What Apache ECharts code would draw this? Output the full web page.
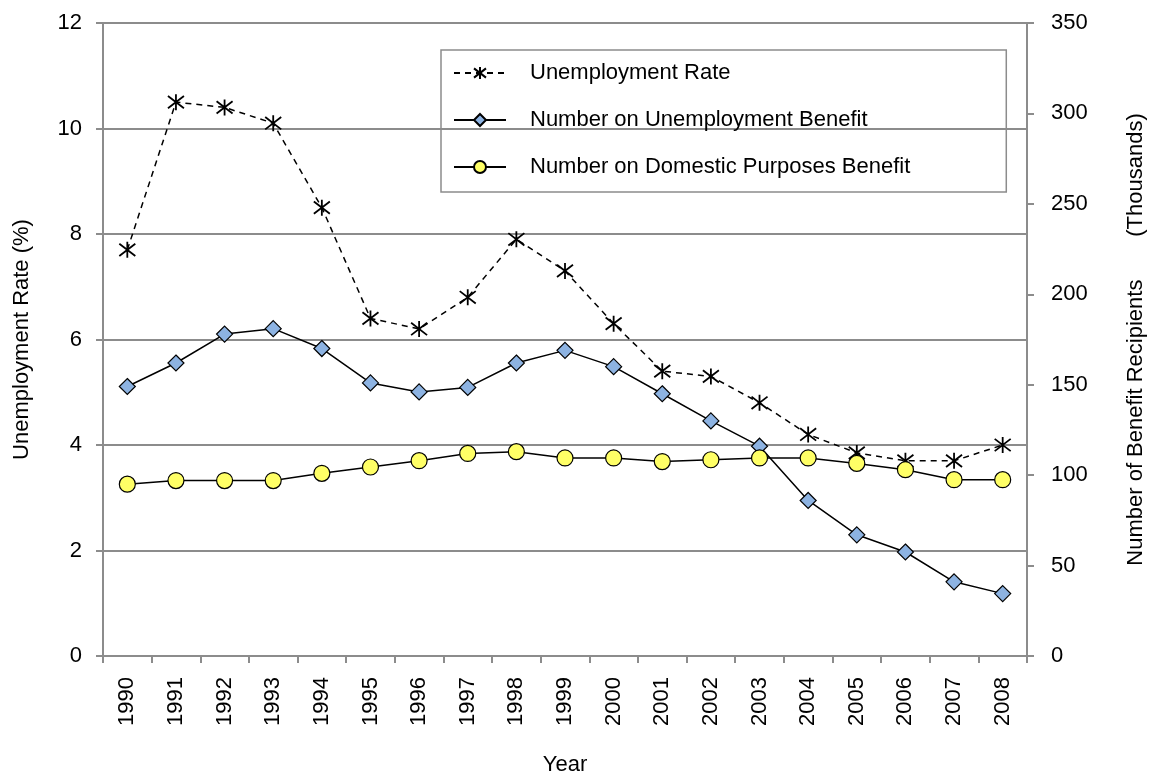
<!DOCTYPE html>
<html>
<head>
<meta charset="utf-8">
<script src="https://cdn.jsdelivr.net/npm/echarts@6/dist/echarts.min.js"></script>
<style>
  html, body { margin: 0; padding: 0; background: #fff; }
  #chart { width: 1150px; height: 778px; }
</style>
</head>
<body>
<div id="chart"></div>
<script>
const years = ['1990', '1991', '1992', '1993', '1994', '1995', '1996', '1997', '1998', '1999',
  '2000', '2001', '2002', '2003', '2004', '2005', '2006', '2007', '2008']
// percent
const unemploymentRate = [7.7, 10.5, 10.4, 10.1, 8.5, 6.4, 6.2, 6.8, 7.9, 7.3,
  6.3, 5.4, 5.3, 4.8, 4.2, 3.85, 3.7, 3.7, 4.0]
// thousands
const unemploymentBenefit = [149, 162, 178, 181, 170, 151, 146, 148.5, 162, 169,
  160, 145, 130, 116, 86, 67, 57.5, 41, 34.5]
const dpbBenefit = [95, 97, 97, 97, 101, 104.5, 108, 112, 113, 109.5,
  109.5, 107.5, 108.5, 109.5, 109.5, 106.5, 103, 97.5, 97.5]

const gray = '#8c8c8c'
const font = 'Liberation Sans, Arial, sans-serif'
const starPath = 'path://M0,0L10,10M10,0L0,10M5,-1.5L5,11.5'

const chart = echarts.init(document.getElementById('chart'), null, { renderer: 'canvas' })

chart.setOption({
  animation: false,
  textStyle: { fontFamily: font, color: '#000' },
  grid: { left: 103, right: 123, top: 23, bottom: 122, containLabel: false, outerBoundsMode: 'none' },
  legend: {
    orient: 'vertical',
    left: 441,
    top: 50,
    padding: [12, 96, 14, 12],
    itemGap: 25,
    itemWidth: 52,
    itemHeight: 15,
    borderColor: gray,
    borderWidth: 1.5,
    textStyle: { fontFamily: font, fontSize: 22, color: '#000', padding: [0, 0, 0, 19] },
    data: ['Unemployment Rate', 'Number on Unemployment Benefit', 'Number on Domestic Purposes Benefit']
  },
  xAxis: {
    type: 'category',
    data: years,
    boundaryGap: true,
    name: 'Year',
    nameLocation: 'middle',
    nameGap: 98,
    nameTextStyle: { fontSize: 22, fontFamily: font, color: '#000' },
    axisLine: { lineStyle: { color: gray, width: 2 } },
    axisTick: { show: true, alignWithLabel: false, length: 7, lineStyle: { color: gray, width: 2 } },
    axisLabel: { rotate: 90, fontSize: 22, color: '#000', margin: 21 }
  },
  yAxis: [
    {
      type: 'value',
      min: 0,
      max: 12,
      interval: 2,
      name: 'Unemployment Rate (%)',
      nameLocation: 'middle',
      nameGap: 70,
      nameTextStyle: { fontSize: 22, fontFamily: font, color: '#000' },
      axisLine: { show: true, lineStyle: { color: gray, width: 2 } },
      axisTick: { show: true, length: 7, lineStyle: { color: gray, width: 2 } },
      axisLabel: { fontSize: 22, color: '#000', margin: 21 },
      splitLine: { lineStyle: { color: gray, width: 2 } }
    },
    {
      type: 'value',
      min: 0,
      max: 350,
      interval: 50,
      position: 'right',
      name: 'Number of Benefit Recipients       (Thousands)',
      nameLocation: 'middle',
      nameGap: 98,
      nameRotate: 90,
      nameTextStyle: { fontSize: 22, fontFamily: font, color: '#000' },
      axisLine: { show: true, lineStyle: { color: gray, width: 2 } },
      axisTick: { show: true, length: 7, lineStyle: { color: gray, width: 2 } },
      axisLabel: { fontSize: 22, color: '#000', margin: 24 },
      splitLine: { show: false }
    }
  ],
  series: [
    {
      name: 'Unemployment Rate',
      type: 'line',
      yAxisIndex: 0,
      data: unemploymentRate,
      symbol: starPath,
      symbolSize: 16,
      lineStyle: { color: '#000', width: 1.5, type: [6, 5] },
      itemStyle: { color: 'rgba(0,0,0,0)', borderColor: '#000', borderWidth: 1.8 },
      z: 3
    },
    {
      name: 'Number on Unemployment Benefit',
      type: 'line',
      yAxisIndex: 1,
      data: unemploymentBenefit,
      symbol: 'diamond',
      symbolSize: 16,
      lineStyle: { color: '#000', width: 1.5 },
      itemStyle: { color: '#8db3e2', borderColor: '#000', borderWidth: 1.2 },
      z: 4
    },
    {
      name: 'Number on Domestic Purposes Benefit',
      type: 'line',
      yAxisIndex: 1,
      data: dpbBenefit,
      symbol: 'circle',
      symbolSize: 16,
      lineStyle: { color: '#000', width: 1.5 },
      itemStyle: { color: '#ffff66', borderColor: '#000', borderWidth: 1.2 },
      z: 5
    }
  ]
})
</script>
</body>
</html>
